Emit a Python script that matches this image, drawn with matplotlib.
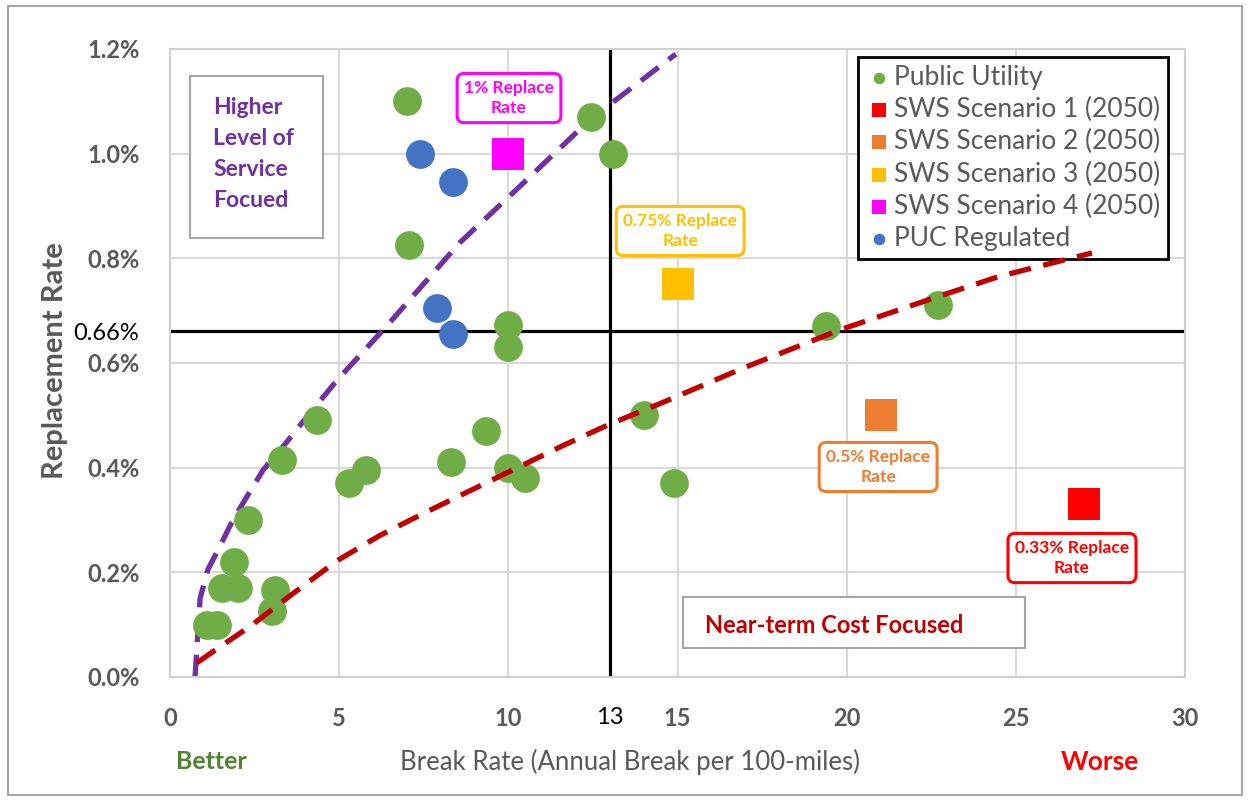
import matplotlib
matplotlib.use('Agg')
import matplotlib.pyplot as plt
from matplotlib.patches import Rectangle

plt.rcParams['font.family'] = ['Lato', 'DejaVu Sans']

# Public Utility points (break rate, replacement rate %)
pu_x = [7.0, 12.45, 13.1, 7.05, 10.0, 10.0, 19.4, 22.7, 14.0, 14.9, 4.35, 5.8, 5.3, 8.3,
        9.35, 10.0, 10.5, 3.3, 2.3, 1.9, 1.55, 2.0, 3.1, 3.0, 1.1, 1.4]
pu_y = [1.10, 1.07, 1.0, 0.825, 0.672, 0.63, 0.67, 0.71, 0.50, 0.37, 0.49, 0.395, 0.37, 0.41,
        0.47, 0.40, 0.38, 0.415, 0.30, 0.22, 0.17, 0.17, 0.165, 0.125, 0.10, 0.10]

# PUC Regulated
puc_x = [7.4, 8.35, 7.9, 8.35]
puc_y = [1.0, 0.945, 0.705, 0.655]

# SWS scenarios (2050)
sws_names = ['SWS Scenario 1 (2050)', 'SWS Scenario 2 (2050)', 'SWS Scenario 3 (2050)', 'SWS Scenario 4 (2050)']
sws_x = [27.0, 21.0, 15.0, 10.0]
sws_y = [0.33, 0.50, 0.75, 1.0]
sws_colors = ['#FF0000', '#ED7D31', '#FFC000', '#FF00FF']
sws_notes = ['0.33% Replace\nRate', '0.5% Replace\nRate', '0.75% Replace\nRate', '1% Replace\nRate']

# trend lines
upper_x = [0.74, 0.80, 0.89, 1.12, 1.48, 1.86, 2.27, 2.75, 3.34, 4.05, 4.94, 6.4, 8.57, 10.14, 12.4, 14.95]
upper_y = [0.0, 0.06, 0.15, 0.205, 0.25, 0.30, 0.344, 0.395, 0.44, 0.497, 0.567, 0.67, 0.83, 0.925, 1.064, 1.19]
lower_x = [0.8, 1.42, 2.36, 3.55, 4.94, 6.2, 7.48, 9.96, 11.62, 13.0, 14.48, 16.94, 19.8, 22.67, 24.5, 27.25]
lower_y = [0.027, 0.055, 0.096, 0.155, 0.222, 0.27, 0.312, 0.39, 0.442, 0.483, 0.522, 0.59, 0.663, 0.726, 0.765, 0.81]

ref_x = 13
ref_y = 0.66

gray = '#595959'

fig = plt.figure(figsize=(12.5, 8.01), dpi=100)
ax = fig.add_axes([0.136, 0.155, 0.812, 0.784])

ax.set_xlim(0, 30)
ax.set_ylim(0, 1.2)
ax.set_xticks([0, 5, 10, 13, 15, 20, 25, 30])
ax.set_xticklabels(['0', '5', '10', '13', '15', '20', '25', '30'])
ax.set_yticks([0, 0.2, 0.4, 0.6, 0.66, 0.8, 1.0, 1.2])
ax.set_yticklabels(['0.0%', '0.2%', '0.4%', '0.6%', '0.66%', '0.8%', '1.0%', '1.2%'])
ax.tick_params(length=0, labelsize=17, colors=gray)
ax.tick_params(axis='x', pad=22)
ax.tick_params(axis='y', pad=22)
for lab in ax.get_xticklabels() + ax.get_yticklabels():
    if lab.get_text() in ('13', '0.66%'):
        lab.set_color('black')
    else:
        lab.set_fontweight('bold')

# grid only on the regular steps
for gx in [0, 5, 10, 15, 20, 25, 30]:
    ax.axvline(gx, color='#D9D9D9', lw=1.5, zorder=0)
for gy in [0, 0.2, 0.4, 0.6, 0.8, 1.0, 1.2]:
    ax.axhline(gy, color='#D9D9D9', lw=1.5, zorder=0)
for s in ax.spines.values():
    s.set_color('#D0D0D0')
    s.set_linewidth(1.5)

ax.axvline(ref_x, color='black', lw=2.3, zorder=1)
ax.axhline(ref_y, color='black', lw=2.3, zorder=1)

ax.plot(upper_x, upper_y, color='#7030A0', lw=3.8, dashes=(4.2, 2.4), zorder=2, clip_on=False)
ax.plot(lower_x, lower_y, color='#C00000', lw=3.8, dashes=(4.2, 2.4), zorder=6)

ax.scatter(pu_x, pu_y, s=430, color='#70AD47', lw=0, label='Public Utility', zorder=3)
for name, x, y, c in zip(sws_names, sws_x, sws_y, sws_colors):
    ax.scatter([x], [y], s=560, marker='s', color=c, lw=0, label=name, zorder=3)
ax.scatter(puc_x, puc_y, s=430, color='#4472C4', lw=0, label='PUC Regulated', zorder=3)

# replace-rate callouts
note_pos = [(26.66, 0.227), (20.93, 0.401), (15.08, 0.852), (10.02, 1.106)]
for (tx, ty), txt, c in zip(note_pos, sws_notes, sws_colors):
    ax.text(tx, ty, txt, ha='center', va='center', fontsize=12.5, fontweight='bold', color=c,
            linespacing=1.25, zorder=4,
            bbox=dict(boxstyle='round,pad=0.4,rounding_size=0.4', fc='white', ec=c, lw=2.2))

# quadrant labels
ax.add_patch(Rectangle((0.59, 0.839), 3.93, 0.309, fc='white', ec='#A6A6A6', lw=1.5, zorder=1))
ax.text(1.27, 0.999, 'Higher\nLevel of\nService\nFocued', ha='left', va='center', fontsize=16.5,
        fontweight='bold', color='#7030A0', linespacing=1.6, zorder=4)
ax.add_patch(Rectangle((15.16, 0.055), 10.11, 0.098, fc='white', ec='#A6A6A6', lw=1.5, zorder=1))
ax.text(15.8, 0.099, 'Near-term Cost Focused', ha='left', va='center', fontsize=17,
        fontweight='bold', color='#C00000', zorder=4)

leg = ax.legend(loc='upper right', bbox_to_anchor=(0.983, 0.987), borderaxespad=0, fontsize=19,
                markerscale=0.4, handletextpad=0.05, labelspacing=0.27, borderpad=0.3,
                handlelength=1.0, fancybox=False, framealpha=1, edgecolor='black')
leg.get_frame().set_linewidth(2)
for t in leg.get_texts():
    t.set_color(gray)

fig.text(0.044, 0.55, 'Replacement Rate', rotation=90, ha='center', va='center', fontsize=21,
         fontweight='bold', color=gray)
fig.text(0.504, 0.049, 'Break Rate (Annual Break per 100-miles)', ha='center', va='center',
         fontsize=18.5, color=gray)
fig.text(0.169, 0.049, 'Better', ha='center', va='center', fontsize=18, fontweight='bold', color='#548235')
fig.text(0.88, 0.049, 'Worse', ha='center', va='center', fontsize=19, fontweight='bold', color='#FF0000')

# outer frame
fig.patches.append(Rectangle((0.0065, 0.0075), 0.987, 0.985, transform=fig.transFigure,
                             fill=False, ec='#A6A6A6', lw=1.5))

fig.savefig('out.png', dpi=100)
